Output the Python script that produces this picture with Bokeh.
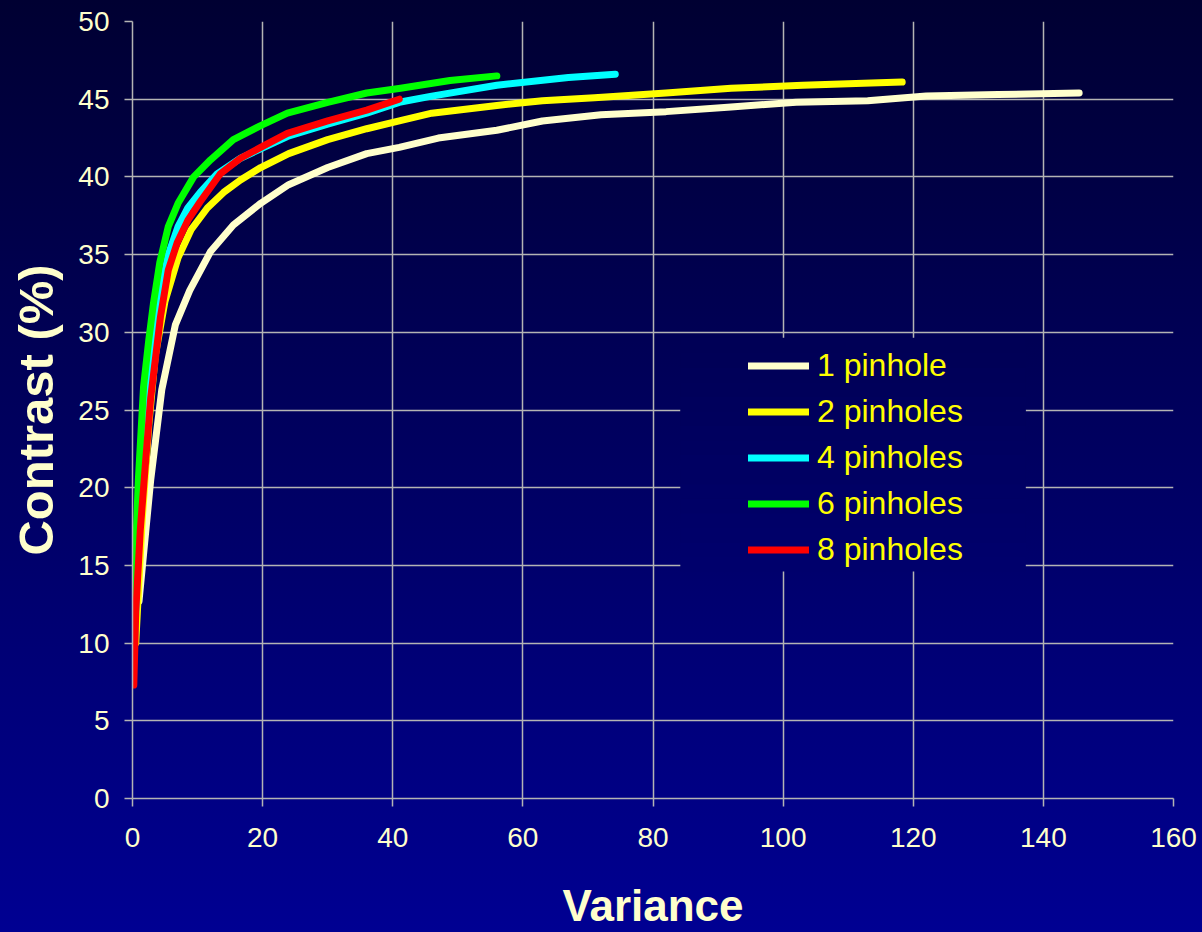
from bokeh.plotting import figure
from bokeh.models import (Legend, LegendItem, BoxAnnotation, SingleIntervalTicker,
                          Range1d)
from bokeh.embed import file_html
from bokeh.resources import INLINE

# ---------------- data ----------------
x_1 = [1.0, 2.8, 4.5, 6.6, 8.8, 12.0, 15.5, 19.7, 24.0, 30.0, 36.0, 41.0, 47.0,
       56.0, 63.0, 72.0, 82.0, 92.0, 102.0, 113.0, 122.0, 133.0, 145.5]
y_1 = [12.7, 20.5, 26.3, 30.5, 32.7, 35.2, 36.9, 38.3, 39.5, 40.6, 41.5, 41.9, 42.5,
       43.0, 43.6, 44.0, 44.2, 44.5, 44.8, 44.9, 45.2, 45.3, 45.4]

x_2 = [0.5, 1.5, 2.5, 3.5, 5.0, 7.0, 9.0, 11.5, 14.0, 16.6, 19.7, 24.0, 30.0, 36.0,
       41.0, 46.0, 56.0, 63.0, 71.0, 82.0, 92.0, 103.0, 110.0, 118.3]
y_2 = [10.0, 18.0, 24.0, 28.5, 32.0, 34.8, 36.6, 38.0, 39.0, 39.8, 40.6, 41.5, 42.4,
       43.1, 43.6, 44.1, 44.6, 44.9, 45.1, 45.4, 45.7, 45.9, 46.0, 46.1]

x_4 = [0.3, 1.0, 2.0, 3.0, 4.3, 5.5, 7.0, 8.5, 10.4, 13.0, 16.6, 19.7, 23.8, 30.0,
       36.0, 41.0, 46.0, 56.0, 67.0, 74.2]
y_4 = [10.0, 17.0, 24.0, 28.5, 32.5, 35.0, 36.8, 38.0, 39.0, 40.2, 41.2, 41.8, 42.6,
       43.4, 44.1, 44.8, 45.2, 45.9, 46.4, 46.6]

x_6 = [0.2, 0.9, 1.7, 2.5, 3.2, 4.2, 5.5, 7.0, 9.4, 12.0, 15.5, 19.7, 23.8, 30.0,
       36.0, 41.2, 48.8, 56.0]
y_6 = [13.0, 20.5, 26.5, 29.5, 31.8, 34.5, 36.8, 38.3, 40.0, 41.1, 42.4, 43.3, 44.1,
       44.8, 45.4, 45.7, 46.2, 46.5]

x_8 = [0.2, 0.5, 1.2, 2.0, 2.8, 4.3, 5.5, 6.9, 8.5, 10.4, 13.5, 16.6, 19.7, 23.8,
       30.0, 36.0, 41.0]
y_8 = [7.3, 12.0, 17.3, 21.6, 25.8, 31.0, 34.0, 35.8, 37.2, 38.4, 40.2, 41.2, 41.9,
       42.8, 43.6, 44.3, 45.0]

series_labels = ["1 pinhole", "2 pinholes", "4 pinholes", "6 pinholes", "8 pinholes"]
series_colors = ["#FFFFCC", "#FFFF00", "#00FFFF", "#00FF00", "#FF0000"]
series_x = [x_1, x_2, x_4, x_6, x_8]
series_y = [y_1, y_2, y_4, y_6, y_8]

x_title = "Variance"
y_title = "Contrast (%)"
x_ticks_interval = 20
y_ticks_interval = 5

# ---------------- styling ----------------
W, H = 1202, 932
TOP_RGB = (0, 0, 50)
BOT_RGB = (0, 0, 146)
TEXT = "#FFFFCC"
GRID = "#B4B4B4"
FONT = "Liberation Sans"


def grad(frac):
    r = [round(a + (b - a) * frac) for a, b in zip(TOP_RGB, BOT_RGB)]
    return "#%02x%02x%02x" % tuple(r)


p = figure(width=W, height=H, output_backend="svg", toolbar_location=None,
           x_range=Range1d(0, 160), y_range=Range1d(0, 50),
           min_border_left=132, min_border_right=29,
           min_border_top=21, min_border_bottom=133)
p.styles = {"background": "linear-gradient(to bottom, %s 0%%, %s 100%%)" % (grad(0), grad(1))}
p.background_fill_alpha = 0
p.border_fill_alpha = 0
p.outline_line_color = None

for ax, iv in ((p.xaxis[0], x_ticks_interval), (p.yaxis[0], y_ticks_interval)):
    ax.ticker = SingleIntervalTicker(interval=iv, num_minor_ticks=0)
    ax.axis_line_color = GRID
    ax.axis_line_width = 1.5
    ax.major_tick_line_color = GRID
    ax.major_tick_line_width = 1.5
    ax.major_tick_out = 8
    ax.major_tick_in = 0
    ax.minor_tick_line_color = None
    ax.major_label_text_color = TEXT
    ax.major_label_text_font = FONT
    ax.major_label_text_font_size = "28px"
    ax.axis_label_text_color = TEXT
    ax.axis_label_text_font = FONT
    ax.axis_label_text_font_style = "bold"

p.xaxis.axis_label = x_title
p.xaxis.axis_label_text_font_size = "44px"
p.xaxis.major_label_standoff = 21
p.xaxis.axis_label_standoff = 31
p.yaxis.axis_label = y_title
p.yaxis.axis_label_text_font_size = "49px"
p.yaxis.major_label_standoff = 15
p.yaxis.axis_label_standoff = 12

p.xgrid.ticker = SingleIntervalTicker(interval=x_ticks_interval, num_minor_ticks=0)
p.ygrid.ticker = SingleIntervalTicker(interval=y_ticks_interval, num_minor_ticks=0)
for g in (p.xgrid[0], p.ygrid[0]):
    g.grid_line_color = GRID
    g.grid_line_width = 1.5

renderers = []
for xs, ys, c in zip(series_x, series_y, series_colors):
    r = p.line(xs, ys, line_color=c, line_width=7, line_cap="round", line_join="round")
    renderers.append(r)

# legend background box (covers the grid, same tone as the gradient)
lx0, lx1 = 84.2, 137.3
ly0, ly1 = 14.6, 29.6
n_strips = 16
plot_top_px, plot_bot_px = 21, 799
for i in range(n_strips):
    b = ly0 + (ly1 - ly0) * i / n_strips
    t = ly0 + (ly1 - ly0) * (i + 1) / n_strips
    mid = (b + t) / 2
    ypx = plot_bot_px - (plot_bot_px - plot_top_px) * mid / 50
    p.add_layout(BoxAnnotation(left=lx0, right=lx1, bottom=b, top=t + 0.05,
                               fill_color=grad(ypx / H), fill_alpha=1,
                               line_color=None))

legend = Legend(items=[LegendItem(label=l, renderers=[r])
                       for l, r in zip(series_labels, renderers)],
                location=(616, 228), padding=0, margin=0, spacing=5,
                glyph_width=61, glyph_height=41, label_height=41, label_standoff=8,
                label_text_color="#FFFF00", label_text_font=FONT,
                label_text_font_size="32px",
                background_fill_alpha=0, border_line_color=None)
p.add_layout(legend)

open("out.html", "w").write(file_html(p, INLINE))
